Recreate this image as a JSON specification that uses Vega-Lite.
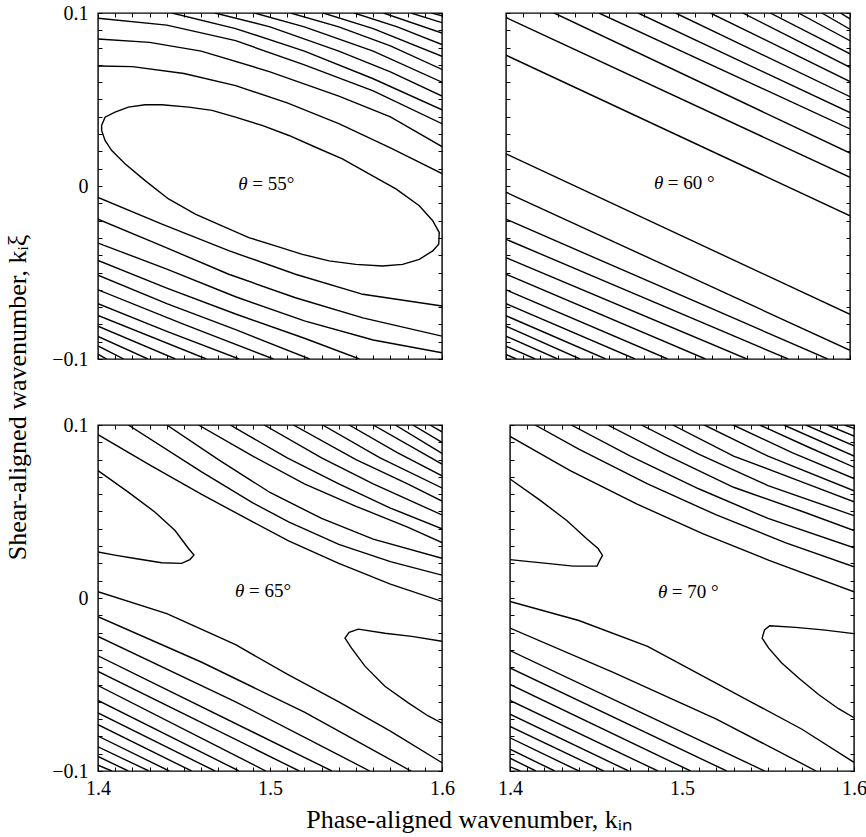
{
"$schema": "https://vega.github.io/schema/vega-lite/v6.json",
"padding": {"left": 5, "top": 2, "right": 2, "bottom": 2},
"config": {
  "font": "Liberation Serif",
  "view": {"stroke": "black", "strokeWidth": 1.4},
  "axis": {"labelFont": "Liberation Serif", "labelFontSize": 20, "labelColor": "black", "tickColor": "black", "tickWidth": 1, "labelOverlap": false, "labelFlush": false, "grid": false, "domain": false, "title": null},
  "title": {"font": "Liberation Serif", "fontWeight": "normal", "color": "black", "fontSize": 26}
},
"title": {"text": "Shear-aligned wavenumber, kᵢξ", "orient": "left", "anchor": "middle", "offset": 20, "dx": 20},
"datasets": {
"lines": [
{"p":55,"c":"c1","x":1.4021,"y":0.035},{"p":55,"c":"c1","x":1.4041,"y":0.0398},{"p":55,"c":"c1","x":1.4099,"y":0.0427},{"p":55,"c":"c1","x":1.4177,"y":0.0456},{"p":55,"c":"c1","x":1.4274,"y":0.047},{"p":55,"c":"c1","x":1.4371,"y":0.047},{"p":55,"c":"c1","x":1.4527,"y":0.0456},{"p":55,"c":"c1","x":1.4663,"y":0.0437},{"p":55,"c":"c1","x":1.4799,"y":0.0398},{"p":55,"c":"c1","x":1.4954,"y":0.035},{"p":55,"c":"c1","x":1.511,"y":0.0292},{"p":55,"c":"c1","x":1.5265,"y":0.0224},{"p":55,"c":"c1","x":1.5421,"y":0.0157},{"p":55,"c":"c1","x":1.5576,"y":0.007},{"p":55,"c":"c1","x":1.5732,"y":-0.0017},{"p":55,"c":"c1","x":1.5868,"y":-0.0114},{"p":55,"c":"c1","x":1.5946,"y":-0.0201},{"p":55,"c":"c1","x":1.5984,"y":-0.0269},{"p":55,"c":"c1","x":1.5981,"y":-0.0337},{"p":55,"c":"c1","x":1.5946,"y":-0.0375},{"p":55,"c":"c1","x":1.5868,"y":-0.0424},{"p":55,"c":"c1","x":1.5771,"y":-0.0453},{"p":55,"c":"c1","x":1.5654,"y":-0.0462},{"p":55,"c":"c1","x":1.5499,"y":-0.0453},{"p":55,"c":"c1","x":1.5343,"y":-0.0433},{"p":55,"c":"c1","x":1.5188,"y":-0.0395},{"p":55,"c":"c1","x":1.5032,"y":-0.0346},{"p":55,"c":"c1","x":1.4877,"y":-0.0298},{"p":55,"c":"c1","x":1.4721,"y":-0.023},{"p":55,"c":"c1","x":1.4566,"y":-0.0162},{"p":55,"c":"c1","x":1.441,"y":-0.0075},{"p":55,"c":"c1","x":1.4274,"y":0.0031},{"p":55,"c":"c1","x":1.4157,"y":0.0128},{"p":55,"c":"c1","x":1.408,"y":0.0205},{"p":55,"c":"c1","x":1.4041,"y":0.0263},{"p":55,"c":"c1","x":1.4021,"y":0.0321},{"p":55,"c":"c1","x":1.4021,"y":0.035},
{"p":55,"c":"c2","x":1.4,"y":0.0694},{"p":55,"c":"c2","x":1.42,"y":0.069},{"p":55,"c":"c2","x":1.45,"y":0.065},{"p":55,"c":"c2","x":1.48,"y":0.058},{"p":55,"c":"c2","x":1.51,"y":0.048},{"p":55,"c":"c2","x":1.54,"y":0.036},{"p":55,"c":"c2","x":1.57,"y":0.022},{"p":55,"c":"c2","x":1.6,"y":0.0072},
{"p":55,"c":"c3","x":1.4,"y":0.085},{"p":55,"c":"c3","x":1.43,"y":0.083},{"p":55,"c":"c3","x":1.46,"y":0.078},{"p":55,"c":"c3","x":1.5,"y":0.066},{"p":55,"c":"c3","x":1.54,"y":0.052},{"p":55,"c":"c3","x":1.57,"y":0.04},{"p":55,"c":"c3","x":1.6,"y":0.0228},
{"p":55,"c":"c4","x":1.4,"y":0.097},{"p":55,"c":"c4","x":1.44,"y":0.093},{"p":55,"c":"c4","x":1.48,"y":0.084},{"p":55,"c":"c4","x":1.52,"y":0.07},{"p":55,"c":"c4","x":1.56,"y":0.055},{"p":55,"c":"c4","x":1.6,"y":0.036},
{"p":55,"c":"c5","x":1.443,"y":0.1},{"p":55,"c":"c5","x":1.48,"y":0.091},{"p":55,"c":"c5","x":1.52,"y":0.078},{"p":55,"c":"c5","x":1.56,"y":0.062},{"p":55,"c":"c5","x":1.6,"y":0.044},
{"p":55,"c":"c6","x":1.468,"y":0.1},{"p":55,"c":"c6","x":1.5,"y":0.092},{"p":55,"c":"c6","x":1.54,"y":0.078},{"p":55,"c":"c6","x":1.57,"y":0.066},{"p":55,"c":"c6","x":1.6,"y":0.052},
{"p":55,"c":"c7","x":1.491,"y":0.1},{"p":55,"c":"c7","x":1.52,"y":0.092},{"p":55,"c":"c7","x":1.56,"y":0.078},{"p":55,"c":"c7","x":1.6,"y":0.06},
{"p":55,"c":"c8","x":1.512,"y":0.1},{"p":55,"c":"c8","x":1.54,"y":0.092},{"p":55,"c":"c8","x":1.57,"y":0.081},{"p":55,"c":"c8","x":1.6,"y":0.0674},
{"p":55,"c":"c9","x":1.531,"y":0.1},{"p":55,"c":"c9","x":1.56,"y":0.091},{"p":55,"c":"c9","x":1.6,"y":0.075},
{"p":55,"c":"c10","x":1.549,"y":0.1},{"p":55,"c":"c10","x":1.574,"y":0.092},{"p":55,"c":"c10","x":1.6,"y":0.0818},
{"p":55,"c":"c11","x":1.566,"y":0.1},{"p":55,"c":"c11","x":1.6,"y":0.0884},
{"p":55,"c":"c12","x":1.582,"y":0.1},{"p":55,"c":"c12","x":1.6,"y":0.0944},
{"p":55,"c":"c13","x":1.594,"y":0.1},{"p":55,"c":"c13","x":1.6,"y":0.0984},
{"p":55,"c":"d1","x":1.4,"y":-0.0066},{"p":55,"c":"d1","x":1.4372,"y":-0.022},{"p":55,"c":"d1","x":1.476,"y":-0.0374},{"p":55,"c":"d1","x":1.5148,"y":-0.051},{"p":55,"c":"d1","x":1.554,"y":-0.0626},{"p":55,"c":"d1","x":1.6,"y":-0.0694},
{"p":55,"c":"d2","x":1.4,"y":-0.0192},{"p":55,"c":"d2","x":1.4372,"y":-0.0346},{"p":55,"c":"d2","x":1.476,"y":-0.051},{"p":55,"c":"d2","x":1.5148,"y":-0.0646},{"p":55,"c":"d2","x":1.554,"y":-0.0762},{"p":55,"c":"d2","x":1.6,"y":-0.0868},
{"p":55,"c":"d3","x":1.4,"y":-0.033},{"p":55,"c":"d3","x":1.44,"y":-0.048},{"p":55,"c":"d3","x":1.48,"y":-0.064},{"p":55,"c":"d3","x":1.52,"y":-0.078},{"p":55,"c":"d3","x":1.56,"y":-0.089},{"p":55,"c":"d3","x":1.6,"y":-0.0964},
{"p":55,"c":"d4","x":1.4,"y":-0.043},{"p":55,"c":"d4","x":1.44,"y":-0.059},{"p":55,"c":"d4","x":1.48,"y":-0.074},{"p":55,"c":"d4","x":1.52,"y":-0.088},{"p":55,"c":"d4","x":1.552,"y":-0.1},
{"p":55,"c":"d5","x":1.4,"y":-0.0516},{"p":55,"c":"d5","x":1.44,"y":-0.068},{"p":55,"c":"d5","x":1.48,"y":-0.083},{"p":55,"c":"d5","x":1.523,"y":-0.1},
{"p":55,"c":"d6","x":1.4,"y":-0.06},{"p":55,"c":"d6","x":1.45,"y":-0.08},{"p":55,"c":"d6","x":1.502,"y":-0.1},
{"p":55,"c":"d7","x":1.4,"y":-0.068},{"p":55,"c":"d7","x":1.44,"y":-0.084},{"p":55,"c":"d7","x":1.482,"y":-0.1},
{"p":55,"c":"d8","x":1.4,"y":-0.0748},{"p":55,"c":"d8","x":1.463,"y":-0.1},
{"p":55,"c":"d9","x":1.4,"y":-0.081},{"p":55,"c":"d9","x":1.445,"y":-0.1},
{"p":55,"c":"d10","x":1.4,"y":-0.087},{"p":55,"c":"d10","x":1.429,"y":-0.1},
{"p":55,"c":"d11","x":1.4,"y":-0.0924},{"p":55,"c":"d11","x":1.415,"y":-0.1},
{"p":55,"c":"d12","x":1.4,"y":-0.0972},{"p":55,"c":"d12","x":1.405,"y":-0.1},

{"p":60,"c":"f1","x":1.4,"y":0.0756},{"p":60,"c":"f1","x":1.6,"y":-0.0172},
{"p":60,"c":"f2","x":1.4,"y":0.0974},{"p":60,"c":"f2","x":1.6,"y":0.005},
{"p":60,"c":"f3","x":1.428,"y":0.1},{"p":60,"c":"f3","x":1.6,"y":0.019},
{"p":60,"c":"f4","x":1.454,"y":0.1},{"p":60,"c":"f4","x":1.6,"y":0.033},
{"p":60,"c":"f5","x":1.4768,"y":0.1},{"p":60,"c":"f5","x":1.6,"y":0.0424},
{"p":60,"c":"f6","x":1.4986,"y":0.1},{"p":60,"c":"f6","x":1.6,"y":0.0516},
{"p":60,"c":"f7","x":1.5188,"y":0.1},{"p":60,"c":"f7","x":1.6,"y":0.0604},
{"p":60,"c":"f8","x":1.5376,"y":0.1},{"p":60,"c":"f8","x":1.6,"y":0.0686},
{"p":60,"c":"f9","x":1.5536,"y":0.1},{"p":60,"c":"f9","x":1.6,"y":0.0764},
{"p":60,"c":"f10","x":1.57,"y":0.1},{"p":60,"c":"f10","x":1.6,"y":0.084},
{"p":60,"c":"f11","x":1.5836,"y":0.1},{"p":60,"c":"f11","x":1.6,"y":0.0906},
{"p":60,"c":"f12","x":1.5944,"y":0.1},{"p":60,"c":"f12","x":1.6,"y":0.0966},
{"p":60,"c":"e1","x":1.4,"y":0.0186},{"p":60,"c":"e1","x":1.6,"y":-0.0742},
{"p":60,"c":"e2","x":1.4,"y":-0.0036},{"p":60,"c":"e2","x":1.6,"y":-0.095},
{"p":60,"c":"e3","x":1.4,"y":-0.0192},{"p":60,"c":"e3","x":1.587,"y":-0.1},
{"p":60,"c":"e4","x":1.4,"y":-0.0308},{"p":60,"c":"e4","x":1.564,"y":-0.1},
{"p":60,"c":"e5","x":1.4,"y":-0.0414},{"p":60,"c":"e5","x":1.54,"y":-0.1},
{"p":60,"c":"e6","x":1.4,"y":-0.051},{"p":60,"c":"e6","x":1.516,"y":-0.1},
{"p":60,"c":"e7","x":1.4,"y":-0.06},{"p":60,"c":"e7","x":1.494,"y":-0.1},
{"p":60,"c":"e8","x":1.4,"y":-0.068},{"p":60,"c":"e8","x":1.475,"y":-0.1},
{"p":60,"c":"e9","x":1.4,"y":-0.075},{"p":60,"c":"e9","x":1.458,"y":-0.1},
{"p":60,"c":"e10","x":1.4,"y":-0.081},{"p":60,"c":"e10","x":1.443,"y":-0.1},
{"p":60,"c":"e11","x":1.4,"y":-0.0868},{"p":60,"c":"e11","x":1.43,"y":-0.1},
{"p":60,"c":"e12","x":1.4,"y":-0.0926},{"p":60,"c":"e12","x":1.417,"y":-0.1},
{"p":60,"c":"e13","x":1.4,"y":-0.0974},{"p":60,"c":"e13","x":1.406,"y":-0.1},

{"p":65,"c":"t1","x":1.4,"y":0.0736},{"p":65,"c":"t1","x":1.4176,"y":0.0612},{"p":65,"c":"t1","x":1.4332,"y":0.0496},{"p":65,"c":"t1","x":1.4448,"y":0.039},{"p":65,"c":"t1","x":1.4526,"y":0.0286},{"p":65,"c":"t1","x":1.4558,"y":0.0248},{"p":65,"c":"t1","x":1.4534,"y":0.0222},{"p":65,"c":"t1","x":1.4486,"y":0.02},{"p":65,"c":"t1","x":1.437,"y":0.0204},{"p":65,"c":"t1","x":1.4216,"y":0.0228},{"p":65,"c":"t1","x":1.4098,"y":0.0248},{"p":65,"c":"t1","x":1.4,"y":0.0266},
{"p":65,"c":"t2","x":1.6,"y":-0.025},{"p":65,"c":"t2","x":1.5824,"y":-0.0222},{"p":65,"c":"t2","x":1.5668,"y":-0.0204},{"p":65,"c":"t2","x":1.5514,"y":-0.018},{"p":65,"c":"t2","x":1.546,"y":-0.0198},{"p":65,"c":"t2","x":1.5436,"y":-0.0232},{"p":65,"c":"t2","x":1.5474,"y":-0.029},{"p":65,"c":"t2","x":1.5552,"y":-0.0394},{"p":65,"c":"t2","x":1.5668,"y":-0.051},{"p":65,"c":"t2","x":1.5804,"y":-0.0606},{"p":65,"c":"t2","x":1.592,"y":-0.0682},{"p":65,"c":"t2","x":1.6,"y":-0.0724},
{"p":65,"c":"g1","x":1.4,"y":0.0944},{"p":65,"c":"g1","x":1.43,"y":0.077},{"p":65,"c":"g1","x":1.46,"y":0.06},{"p":65,"c":"g1","x":1.49,"y":0.044},{"p":65,"c":"g1","x":1.5108,"y":0.033},{"p":65,"c":"g1","x":1.54,"y":0.02},{"p":65,"c":"g1","x":1.57,"y":0.008},{"p":65,"c":"g1","x":1.6,"y":-0.002},
{"p":65,"c":"g2","x":1.4176,"y":0.1},{"p":65,"c":"g2","x":1.46,"y":0.073},{"p":65,"c":"g2","x":1.49,"y":0.055},{"p":65,"c":"g2","x":1.5108,"y":0.044},{"p":65,"c":"g2","x":1.54,"y":0.031},{"p":65,"c":"g2","x":1.57,"y":0.021},{"p":65,"c":"g2","x":1.6,"y":0.0132},
{"p":65,"c":"g3","x":1.44,"y":0.1},{"p":65,"c":"g3","x":1.47,"y":0.08},{"p":65,"c":"g3","x":1.5,"y":0.061},{"p":65,"c":"g3","x":1.53,"y":0.046},{"p":65,"c":"g3","x":1.56,"y":0.034},{"p":65,"c":"g3","x":1.6,"y":0.023},
{"p":65,"c":"g4","x":1.4584,"y":0.1},{"p":65,"c":"g4","x":1.49,"y":0.082},{"p":65,"c":"g4","x":1.52,"y":0.066},{"p":65,"c":"g4","x":1.55,"y":0.053},{"p":65,"c":"g4","x":1.58,"y":0.041},{"p":65,"c":"g4","x":1.6,"y":0.032},
{"p":65,"c":"g5","x":1.4768,"y":0.1},{"p":65,"c":"g5","x":1.51,"y":0.081},{"p":65,"c":"g5","x":1.54,"y":0.066},{"p":65,"c":"g5","x":1.57,"y":0.052},{"p":65,"c":"g5","x":1.6,"y":0.04},
{"p":65,"c":"g6","x":1.4966,"y":0.1},{"p":65,"c":"g6","x":1.53,"y":0.081},{"p":65,"c":"g6","x":1.56,"y":0.066},{"p":65,"c":"g6","x":1.6,"y":0.048},
{"p":65,"c":"g7","x":1.5136,"y":0.1},{"p":65,"c":"g7","x":1.55,"y":0.08},{"p":65,"c":"g7","x":1.58,"y":0.066},{"p":65,"c":"g7","x":1.6,"y":0.056},
{"p":65,"c":"g8","x":1.5306,"y":0.1},{"p":65,"c":"g8","x":1.564,"y":0.081},{"p":65,"c":"g8","x":1.6,"y":0.0636},
{"p":65,"c":"g9","x":1.546,"y":0.1},{"p":65,"c":"g9","x":1.574,"y":0.084},{"p":65,"c":"g9","x":1.6,"y":0.0706},
{"p":65,"c":"g10","x":1.56,"y":0.1},{"p":65,"c":"g10","x":1.6,"y":0.0774},
{"p":65,"c":"g11","x":1.5728,"y":0.1},{"p":65,"c":"g11","x":1.6,"y":0.0836},
{"p":65,"c":"g12","x":1.583,"y":0.1},{"p":65,"c":"g12","x":1.6,"y":0.09},
{"p":65,"c":"g13","x":1.593,"y":0.1},{"p":65,"c":"g13","x":1.6,"y":0.096},
{"p":65,"c":"h1","x":1.4,"y":0.0036},{"p":65,"c":"h1","x":1.44,"y":-0.009},{"p":65,"c":"h1","x":1.48,"y":-0.027},{"p":65,"c":"h1","x":1.51,"y":-0.044},{"p":65,"c":"h1","x":1.54,"y":-0.06},{"p":65,"c":"h1","x":1.57,"y":-0.077},{"p":65,"c":"h1","x":1.6,"y":-0.0952},
{"p":65,"c":"h2","x":1.4,"y":-0.0108},{"p":65,"c":"h2","x":1.46,"y":-0.037},{"p":65,"c":"h2","x":1.52,"y":-0.066},{"p":65,"c":"h2","x":1.582,"y":-0.1},
{"p":65,"c":"h3","x":1.4,"y":-0.0222},{"p":65,"c":"h3","x":1.48,"y":-0.06},{"p":65,"c":"h3","x":1.558,"y":-0.1},
{"p":65,"c":"h4","x":1.4,"y":-0.0334},{"p":65,"c":"h4","x":1.536,"y":-0.1},
{"p":65,"c":"h5","x":1.4,"y":-0.0424},{"p":65,"c":"h5","x":1.517,"y":-0.1},
{"p":65,"c":"h6","x":1.4,"y":-0.0506},{"p":65,"c":"h6","x":1.4976,"y":-0.1},
{"p":65,"c":"h7","x":1.4,"y":-0.0592},{"p":65,"c":"h7","x":1.482,"y":-0.1},
{"p":65,"c":"h8","x":1.4,"y":-0.0664},{"p":65,"c":"h8","x":1.468,"y":-0.1},
{"p":65,"c":"h9","x":1.4,"y":-0.0732},{"p":65,"c":"h9","x":1.4544,"y":-0.1},
{"p":65,"c":"h10","x":1.4,"y":-0.0798},{"p":65,"c":"h10","x":1.4414,"y":-0.1},
{"p":65,"c":"h11","x":1.4,"y":-0.086},{"p":65,"c":"h11","x":1.4296,"y":-0.1},
{"p":65,"c":"h12","x":1.4,"y":-0.0916},{"p":65,"c":"h12","x":1.4176,"y":-0.1},
{"p":65,"c":"h13","x":1.4,"y":-0.0966},{"p":65,"c":"h13","x":1.408,"y":-0.1},

{"p":70,"c":"u1","x":1.4,"y":0.0688},{"p":70,"c":"u1","x":1.4176,"y":0.0564},{"p":70,"c":"u1","x":1.433,"y":0.0448},{"p":70,"c":"u1","x":1.4446,"y":0.0342},{"p":70,"c":"u1","x":1.4512,"y":0.0286},{"p":70,"c":"u1","x":1.4538,"y":0.0246},{"p":70,"c":"u1","x":1.4522,"y":0.0218},{"p":70,"c":"u1","x":1.4506,"y":0.0184},{"p":70,"c":"u1","x":1.4368,"y":0.0184},{"p":70,"c":"u1","x":1.4214,"y":0.02},{"p":70,"c":"u1","x":1.4098,"y":0.0212},{"p":70,"c":"u1","x":1.4,"y":0.0222},
{"p":70,"c":"u2","x":1.6,"y":-0.0206},{"p":70,"c":"u2","x":1.582,"y":-0.0184},{"p":70,"c":"u2","x":1.566,"y":-0.017},{"p":70,"c":"u2","x":1.551,"y":-0.016},{"p":70,"c":"u2","x":1.548,"y":-0.0184},{"p":70,"c":"u2","x":1.5466,"y":-0.0232},{"p":70,"c":"u2","x":1.5504,"y":-0.029},{"p":70,"c":"u2","x":1.558,"y":-0.0376},{"p":70,"c":"u2","x":1.5678,"y":-0.0462},{"p":70,"c":"u2","x":1.5794,"y":-0.0558},{"p":70,"c":"u2","x":1.591,"y":-0.064},{"p":70,"c":"u2","x":1.6,"y":-0.0692},
{"p":70,"c":"i1","x":1.4,"y":0.0934},{"p":70,"c":"i1","x":1.435,"y":0.0736},{"p":70,"c":"i1","x":1.4736,"y":0.0544},{"p":70,"c":"i1","x":1.512,"y":0.0372},{"p":70,"c":"i1","x":1.5506,"y":0.0218},{"p":70,"c":"i1","x":1.6,"y":0.0036},
{"p":70,"c":"i2","x":1.4146,"y":0.1},{"p":70,"c":"i2","x":1.44,"y":0.086},{"p":70,"c":"i2","x":1.48,"y":0.066},{"p":70,"c":"i2","x":1.52,"y":0.048},{"p":70,"c":"i2","x":1.56,"y":0.032},{"p":70,"c":"i2","x":1.6,"y":0.018},
{"p":70,"c":"i3","x":1.4356,"y":0.1},{"p":70,"c":"i3","x":1.47,"y":0.082},{"p":70,"c":"i3","x":1.51,"y":0.063},{"p":70,"c":"i3","x":1.55,"y":0.046},{"p":70,"c":"i3","x":1.6,"y":0.029},
{"p":70,"c":"i4","x":1.4568,"y":0.1},{"p":70,"c":"i4","x":1.49,"y":0.083},{"p":70,"c":"i4","x":1.53,"y":0.064},{"p":70,"c":"i4","x":1.57,"y":0.05},{"p":70,"c":"i4","x":1.6,"y":0.039},
{"p":70,"c":"i5","x":1.4764,"y":0.1},{"p":70,"c":"i5","x":1.51,"y":0.083},{"p":70,"c":"i5","x":1.55,"y":0.065},{"p":70,"c":"i5","x":1.6,"y":0.0476},
{"p":70,"c":"i6","x":1.4946,"y":0.1},{"p":70,"c":"i6","x":1.53,"y":0.082},{"p":70,"c":"i6","x":1.57,"y":0.067},{"p":70,"c":"i6","x":1.6,"y":0.0556},
{"p":70,"c":"i7","x":1.513,"y":0.1},{"p":70,"c":"i7","x":1.55,"y":0.082},{"p":70,"c":"i7","x":1.6,"y":0.062},
{"p":70,"c":"i8","x":1.5298,"y":0.1},{"p":70,"c":"i8","x":1.564,"y":0.084},{"p":70,"c":"i8","x":1.6,"y":0.069},
{"p":70,"c":"i9","x":1.5452,"y":0.1},{"p":70,"c":"i9","x":1.574,"y":0.087},{"p":70,"c":"i9","x":1.6,"y":0.0756},
{"p":70,"c":"i10","x":1.5592,"y":0.1},{"p":70,"c":"i10","x":1.6,"y":0.082},
{"p":70,"c":"i11","x":1.572,"y":0.1},{"p":70,"c":"i11","x":1.6,"y":0.088},
{"p":70,"c":"i12","x":1.5846,"y":0.1},{"p":70,"c":"i12","x":1.6,"y":0.0936},
{"p":70,"c":"i13","x":1.5944,"y":0.1},{"p":70,"c":"i13","x":1.6,"y":0.098},
{"p":70,"c":"j1","x":1.4,"y":-0.002},{"p":70,"c":"j1","x":1.44,"y":-0.013},{"p":70,"c":"j1","x":1.48,"y":-0.028},{"p":70,"c":"j1","x":1.51,"y":-0.044},{"p":70,"c":"j1","x":1.54,"y":-0.06},{"p":70,"c":"j1","x":1.57,"y":-0.076},{"p":70,"c":"j1","x":1.6,"y":-0.095},
{"p":70,"c":"j2","x":1.4,"y":-0.0174},{"p":70,"c":"j2","x":1.46,"y":-0.043},{"p":70,"c":"j2","x":1.52,"y":-0.07},{"p":70,"c":"j2","x":1.578,"y":-0.1},
{"p":70,"c":"j3","x":1.4,"y":-0.0304},{"p":70,"c":"j3","x":1.48,"y":-0.068},{"p":70,"c":"j3","x":1.548,"y":-0.1},
{"p":70,"c":"j4","x":1.4,"y":-0.0404},{"p":70,"c":"j4","x":1.526,"y":-0.1},
{"p":70,"c":"j5","x":1.4,"y":-0.05},{"p":70,"c":"j5","x":1.505,"y":-0.1},
{"p":70,"c":"j6","x":1.4,"y":-0.0592},{"p":70,"c":"j6","x":1.486,"y":-0.1},
{"p":70,"c":"j7","x":1.4,"y":-0.0672},{"p":70,"c":"j7","x":1.469,"y":-0.1},
{"p":70,"c":"j8","x":1.4,"y":-0.0742},{"p":70,"c":"j8","x":1.4544,"y":-0.1},
{"p":70,"c":"j9","x":1.4,"y":-0.0808},{"p":70,"c":"j9","x":1.44,"y":-0.1},
{"p":70,"c":"j10","x":1.4,"y":-0.0874},{"p":70,"c":"j10","x":1.426,"y":-0.1},
{"p":70,"c":"j11","x":1.4,"y":-0.0926},{"p":70,"c":"j11","x":1.415,"y":-0.1},
{"p":70,"c":"j12","x":1.4,"y":-0.0976},{"p":70,"c":"j12","x":1.406,"y":-0.1}
],
"labels": [
{"p":55,"x":1.4816,"x2":1.4897,"y":0.0012,"a":"θ","b":"= 55°"},
{"p":60,"x":1.486,"x2":1.4941,"y":0.0016,"a":"θ","b":"= 60 °"},
{"p":65,"x":1.4797,"x2":1.4878,"y":0.0042,"a":"θ","b":"= 65°"},
{"p":70,"x":1.486,"x2":1.4941,"y":0.0036,"a":"θ","b":"= 70 °"}
]
},
"spacing": 44,
"vconcat": [
{
"spacing": 60,
"hconcat": [
{
"width": 344, "height": 346,
"layer": [
{"data": {"name": "lines"}, "transform": [{"filter": "datum.p == 55"}],
 "mark": {"type": "line", "color": "black", "strokeWidth": 1.4, "clip": true},
 "encoding": {
  "x": {"field": "x", "type": "quantitative", "scale": {"domain": [1.4, 1.6], "nice": false, "zero": false},
        "axis": {"orient": "bottom", "labels": false, "values": [1.4,1.41,1.42,1.43,1.44,1.45,1.46,1.47,1.48,1.49,1.5,1.51,1.52,1.53,1.54,1.55,1.56,1.57,1.58,1.59,1.6], "offset": -4, "tickSize": 4}},
  "y": {"field": "y", "type": "quantitative", "scale": {"domain": [-0.1, 0.1], "nice": false, "zero": false},
        "axis": {"orient": "left", "values": [-0.1,-0.09,-0.08,-0.07,-0.06,-0.05,-0.04,-0.03,-0.02,-0.01,0,0.01,0.02,0.03,0.04,0.05,0.06,0.07,0.08,0.09,0.1], "labelExpr": "datum.value == 0 ? '0' : (indexof([-0.1,0.1], datum.value) >= 0 ? format(datum.value, '.1f') : '')", "offset": -4, "tickSize": 4, "labelPadding": 10}},
  "detail": {"field": "c", "type": "nominal"},
  "order": {"value": null}}},
{"data": {"name": "labels"}, "transform": [{"filter": "datum.p == 55"}],
 "mark": {"type": "text", "fontStyle": "italic", "align": "left", "baseline": "middle", "fontSize": 19, "color": "black"},
 "encoding": {
  "x": {"field": "x", "type": "quantitative", "axis": {"orient": "top", "labels": false, "values": [1.4,1.41,1.42,1.43,1.44,1.45,1.46,1.47,1.48,1.49,1.5,1.51,1.52,1.53,1.54,1.55,1.56,1.57,1.58,1.59,1.6], "offset": -4, "tickSize": 4}},
  "y": {"field": "y", "type": "quantitative", "axis": {"orient": "right", "labels": false, "values": [-0.1,-0.09,-0.08,-0.07,-0.06,-0.05,-0.04,-0.03,-0.02,-0.01,0,0.01,0.02,0.03,0.04,0.05,0.06,0.07,0.08,0.09,0.1], "offset": -4, "tickSize": 4}},
  "text": {"field": "a"}}},
{"data": {"name": "labels"}, "transform": [{"filter": "datum.p == 55"}],
 "mark": {"type": "text", "align": "left", "baseline": "middle", "fontSize": 19, "color": "black"},
 "encoding": {
  "x": {"field": "x2", "type": "quantitative", "axis": null},
  "y": {"field": "y", "type": "quantitative", "axis": null},
  "text": {"field": "b"}}}
],
"resolve": {"axis": {"x": "independent", "y": "independent"}}
},
{
"width": 344, "height": 346,
"layer": [
{"data": {"name": "lines"}, "transform": [{"filter": "datum.p == 60"}],
 "mark": {"type": "line", "color": "black", "strokeWidth": 1.4, "clip": true},
 "encoding": {
  "x": {"field": "x", "type": "quantitative", "scale": {"domain": [1.4, 1.6], "nice": false, "zero": false},
        "axis": {"orient": "bottom", "labels": false, "values": [1.4,1.41,1.42,1.43,1.44,1.45,1.46,1.47,1.48,1.49,1.5,1.51,1.52,1.53,1.54,1.55,1.56,1.57,1.58,1.59,1.6], "offset": -4, "tickSize": 4}},
  "y": {"field": "y", "type": "quantitative", "scale": {"domain": [-0.1, 0.1], "nice": false, "zero": false},
        "axis": {"orient": "left", "labels": false, "values": [-0.1,-0.09,-0.08,-0.07,-0.06,-0.05,-0.04,-0.03,-0.02,-0.01,0,0.01,0.02,0.03,0.04,0.05,0.06,0.07,0.08,0.09,0.1], "offset": -4, "tickSize": 4}},
  "detail": {"field": "c", "type": "nominal"},
  "order": {"value": null}}},
{"data": {"name": "labels"}, "transform": [{"filter": "datum.p == 60"}],
 "mark": {"type": "text", "fontStyle": "italic", "align": "left", "baseline": "middle", "fontSize": 19, "color": "black"},
 "encoding": {
  "x": {"field": "x", "type": "quantitative", "axis": {"orient": "top", "labels": false, "values": [1.4,1.41,1.42,1.43,1.44,1.45,1.46,1.47,1.48,1.49,1.5,1.51,1.52,1.53,1.54,1.55,1.56,1.57,1.58,1.59,1.6], "offset": -4, "tickSize": 4}},
  "y": {"field": "y", "type": "quantitative", "axis": {"orient": "right", "labels": false, "values": [-0.1,-0.09,-0.08,-0.07,-0.06,-0.05,-0.04,-0.03,-0.02,-0.01,0,0.01,0.02,0.03,0.04,0.05,0.06,0.07,0.08,0.09,0.1], "offset": -4, "tickSize": 4}},
  "text": {"field": "a"}}},
{"data": {"name": "labels"}, "transform": [{"filter": "datum.p == 60"}],
 "mark": {"type": "text", "align": "left", "baseline": "middle", "fontSize": 19, "color": "black"},
 "encoding": {
  "x": {"field": "x2", "type": "quantitative", "axis": null},
  "y": {"field": "y", "type": "quantitative", "axis": null},
  "text": {"field": "b"}}}
],
"resolve": {"axis": {"x": "independent", "y": "independent"}}
}
]
},
{
"spacing": 40,
"title": {"text": "Phase-aligned wavenumber, kᵢₙ", "orient": "bottom", "anchor": "middle", "offset": 8, "dx": 10},
"hconcat": [
{
"width": 344, "height": 346,
"layer": [
{"data": {"name": "lines"}, "transform": [{"filter": "datum.p == 65"}],
 "mark": {"type": "line", "color": "black", "strokeWidth": 1.4, "clip": true},
 "encoding": {
  "x": {"field": "x", "type": "quantitative", "scale": {"domain": [1.4, 1.6], "nice": false, "zero": false},
        "axis": {"orient": "bottom", "values": [1.4,1.41,1.42,1.43,1.44,1.45,1.46,1.47,1.48,1.49,1.5,1.51,1.52,1.53,1.54,1.55,1.56,1.57,1.58,1.59,1.6], "labelExpr": "indexof([1.4,1.5,1.6], datum.value) >= 0 ? format(datum.value, '.1f') : ''", "offset": -4, "tickSize": 4, "labelPadding": 7}},
  "y": {"field": "y", "type": "quantitative", "scale": {"domain": [-0.1, 0.1], "nice": false, "zero": false},
        "axis": {"orient": "left", "values": [-0.1,-0.09,-0.08,-0.07,-0.06,-0.05,-0.04,-0.03,-0.02,-0.01,0,0.01,0.02,0.03,0.04,0.05,0.06,0.07,0.08,0.09,0.1], "labelExpr": "datum.value == 0 ? '0' : (indexof([-0.1,0.1], datum.value) >= 0 ? format(datum.value, '.1f') : '')", "offset": -4, "tickSize": 4, "labelPadding": 10}},
  "detail": {"field": "c", "type": "nominal"},
  "order": {"value": null}}},
{"data": {"name": "labels"}, "transform": [{"filter": "datum.p == 65"}],
 "mark": {"type": "text", "fontStyle": "italic", "align": "left", "baseline": "middle", "fontSize": 19, "color": "black"},
 "encoding": {
  "x": {"field": "x", "type": "quantitative", "axis": {"orient": "top", "labels": false, "values": [1.4,1.41,1.42,1.43,1.44,1.45,1.46,1.47,1.48,1.49,1.5,1.51,1.52,1.53,1.54,1.55,1.56,1.57,1.58,1.59,1.6], "offset": -4, "tickSize": 4}},
  "y": {"field": "y", "type": "quantitative", "axis": {"orient": "right", "labels": false, "values": [-0.1,-0.09,-0.08,-0.07,-0.06,-0.05,-0.04,-0.03,-0.02,-0.01,0,0.01,0.02,0.03,0.04,0.05,0.06,0.07,0.08,0.09,0.1], "offset": -4, "tickSize": 4}},
  "text": {"field": "a"}}},
{"data": {"name": "labels"}, "transform": [{"filter": "datum.p == 65"}],
 "mark": {"type": "text", "align": "left", "baseline": "middle", "fontSize": 19, "color": "black"},
 "encoding": {
  "x": {"field": "x2", "type": "quantitative", "axis": null},
  "y": {"field": "y", "type": "quantitative", "axis": null},
  "text": {"field": "b"}}}
],
"resolve": {"axis": {"x": "independent", "y": "independent"}}
},
{
"width": 344, "height": 346,
"layer": [
{"data": {"name": "lines"}, "transform": [{"filter": "datum.p == 70"}],
 "mark": {"type": "line", "color": "black", "strokeWidth": 1.4, "clip": true},
 "encoding": {
  "x": {"field": "x", "type": "quantitative", "scale": {"domain": [1.4, 1.6], "nice": false, "zero": false},
        "axis": {"orient": "bottom", "values": [1.4,1.41,1.42,1.43,1.44,1.45,1.46,1.47,1.48,1.49,1.5,1.51,1.52,1.53,1.54,1.55,1.56,1.57,1.58,1.59,1.6], "labelExpr": "indexof([1.4,1.5,1.6], datum.value) >= 0 ? format(datum.value, '.1f') : ''", "offset": -4, "tickSize": 4, "labelPadding": 7}},
  "y": {"field": "y", "type": "quantitative", "scale": {"domain": [-0.1, 0.1], "nice": false, "zero": false},
        "axis": {"orient": "left", "labels": false, "values": [-0.1,-0.09,-0.08,-0.07,-0.06,-0.05,-0.04,-0.03,-0.02,-0.01,0,0.01,0.02,0.03,0.04,0.05,0.06,0.07,0.08,0.09,0.1], "offset": -4, "tickSize": 4}},
  "detail": {"field": "c", "type": "nominal"},
  "order": {"value": null}}},
{"data": {"name": "labels"}, "transform": [{"filter": "datum.p == 70"}],
 "mark": {"type": "text", "fontStyle": "italic", "align": "left", "baseline": "middle", "fontSize": 19, "color": "black"},
 "encoding": {
  "x": {"field": "x", "type": "quantitative", "axis": {"orient": "top", "labels": false, "values": [1.4,1.41,1.42,1.43,1.44,1.45,1.46,1.47,1.48,1.49,1.5,1.51,1.52,1.53,1.54,1.55,1.56,1.57,1.58,1.59,1.6], "offset": -4, "tickSize": 4}},
  "y": {"field": "y", "type": "quantitative", "axis": {"orient": "right", "labels": false, "values": [-0.1,-0.09,-0.08,-0.07,-0.06,-0.05,-0.04,-0.03,-0.02,-0.01,0,0.01,0.02,0.03,0.04,0.05,0.06,0.07,0.08,0.09,0.1], "offset": -4, "tickSize": 4}},
  "text": {"field": "a"}}},
{"data": {"name": "labels"}, "transform": [{"filter": "datum.p == 70"}],
 "mark": {"type": "text", "align": "left", "baseline": "middle", "fontSize": 19, "color": "black"},
 "encoding": {
  "x": {"field": "x2", "type": "quantitative", "axis": null},
  "y": {"field": "y", "type": "quantitative", "axis": null},
  "text": {"field": "b"}}}
],
"resolve": {"axis": {"x": "independent", "y": "independent"}}
}
]
}
]
}
